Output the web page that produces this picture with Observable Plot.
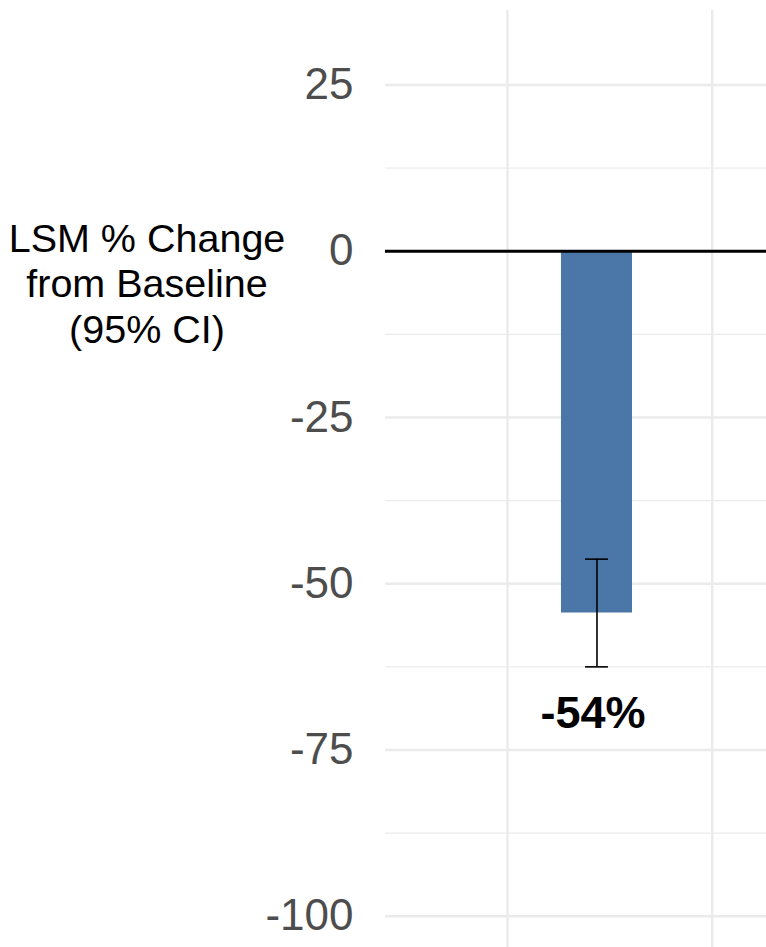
<!DOCTYPE html>
<html><head><meta charset="utf-8">
<script src="https://cdn.jsdelivr.net/npm/d3@7"></script>
<script src="https://cdn.jsdelivr.net/npm/@observablehq/plot@0.6"></script>
<style>body{margin:0;background:#fff}</style>
</head><body><div id="chart"></div>
<script>
// ---- data ----
const groups = ["Treatment"];
const xPositions = [1.437];
const lsmChange = [-54.4];
const ciLower = [-62.5];
const ciUpper = [-46.3];
const valueLabels = ["-54%"];
const yTicks = [-100, -75, -50, -25, 0, 25];
const yMinorTicks = [-87.5, -62.5, -37.5, -12.5, 12.5];
const xGridTicks = [1, 2];
const yTitle = "LSM % Change\nfrom Baseline\n(95% CI)";

const data = groups.map((g, i) => ({
  group: g, x: xPositions[i], y: lsmChange[i],
  lo: ciLower[i], hi: ciUpper[i], label: valueLabels[i]
}));

const barWidth = 0.347;
const capWidth = 0.112;

const chart = Plot.plot({
  width: 766,
  height: 947,
  marginLeft: 385,
  marginRight: 0,
  marginTop: 10,
  marginBottom: 0,
  style: {fontFamily: "'Liberation Sans', Arial, Helvetica, sans-serif", background: "#fff"},
  x: {domain: [0.404, 2.265], axis: null},
  y: {domain: [-104.7, 36.2], axis: null},
  marks: [
    Plot.ruleY(yMinorTicks, {stroke: "#ececec", strokeWidth: 1.4}),
    Plot.ruleY(yTicks, {stroke: "#ebebeb", strokeWidth: 2.4}),
    Plot.ruleX(xGridTicks, {stroke: "#ebebeb", strokeWidth: 2.4}),
    Plot.axisY(yTicks, {tickSize: 0, tickPadding: 32, fontSize: 44, color: "#4d4d4d", label: null, tickFormat: d => String(d)}),
    Plot.rectY(data, {x1: d => d.x - barWidth / 2, x2: d => d.x + barWidth / 2, y1: 0, y2: "y", fill: "#4b77a8"}),
    Plot.ruleY([0], {stroke: "#000", strokeWidth: 2.8}),
    Plot.ruleX(data, {x: "x", y1: "lo", y2: "hi", stroke: "#000", strokeWidth: 1.6}),
    Plot.ruleY(data, {y: "lo", x1: d => d.x - capWidth / 2, x2: d => d.x + capWidth / 2, stroke: "#000", strokeWidth: 1.6}),
    Plot.ruleY(data, {y: "hi", x1: d => d.x - capWidth / 2, x2: d => d.x + capWidth / 2, stroke: "#000", strokeWidth: 1.6}),
    Plot.text(data, {x: "x", y: "lo", text: "label", lineAnchor: "top", dx: -4, dy: 29, fontWeight: "bold", fontSize: 45, fill: "#000"}),
    Plot.text([yTitle], {frameAnchor: "top-left", dx: -238.5, dy: 209, textAnchor: "middle", lineAnchor: "top", lineHeight: 1.15, fontSize: 39.5, fill: "#000"})
  ]
});
document.getElementById("chart").appendChild(chart);
</script>
</body></html>
